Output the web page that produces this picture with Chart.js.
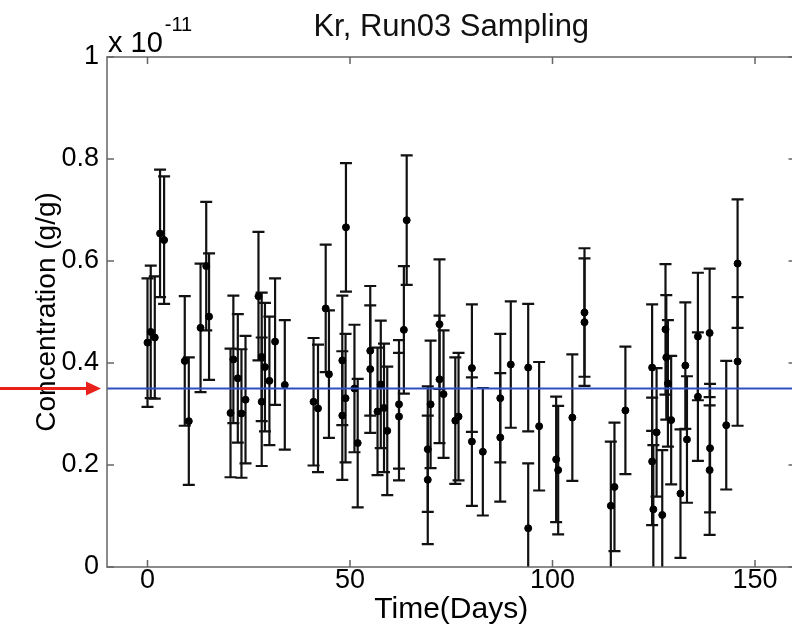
<!DOCTYPE html>
<html>
<head>
<meta charset="utf-8">
<script src="https://cdn.jsdelivr.net/npm/chart.js@4.4.1/dist/chart.umd.min.js"></script>
<style>
html,body{margin:0;padding:0;background:#fff;overflow:hidden;width:792px;height:630px;}
#wrap{position:absolute;left:0;top:0;width:800px;height:630px;}
</style>
</head>
<body>
<div id="wrap"><canvas id="c" width="800" height="630"></canvas></div>
<script>
// Time in days
const days = [0,0.8,1.8,3.1,4.1,9.2,10.2,13.1,14.5,15.2,
  20.5,21.2,22.3,23.2,24.2,
  27.4,28.2,28.2,29.0,30.1,31.5,33.9,
  41.0,42.1,44.0,44.8,
  48.1,48.1,49.0,48.9,
  51.1,51.9,
  55.0,55.0,56.8,57.6,58.4,59.2,
  62.1,62.1,64.0,63.3,
  69.2,69.2,69.9,
  72.1,72.1,73.1,
  76.0,76.8,
  80.1,80.1,82.8,
  87.1,87.1,89.7,
  94.0,94.0,96.7,
  100.9,101.4,104.9,
  107.9,107.9,
  114.4,115.3,118.0,
  124.6,124.6,124.9,125.7,
  127.1,127.9,128.1,128.5,129.3,
  131.6,132.8,133.2,
  135.9,135.9,
  138.8,138.9,138.8,
  142.9,145.7,145.7];
// Concentration (x 1e-11 g/g)
const conc = [0.440,0.461,0.450,0.654,0.641,0.404,0.286,0.469,0.590,0.491,
  0.302,0.407,0.370,0.301,0.328,
  0.531,0.412,0.324,0.392,0.365,0.442,0.357,
  0.324,0.311,0.507,0.378,
  0.405,0.297,0.666,0.331,
  0.350,0.243,
  0.424,0.388,0.305,0.358,0.312,0.267,
  0.319,0.295,0.680,0.465,
  0.231,0.171,0.319,
  0.476,0.368,0.339,
  0.287,0.295,
  0.390,0.246,0.226,
  0.331,0.254,0.397,
  0.391,0.076,0.276,
  0.211,0.190,0.293,
  0.499,0.480,
  0.120,0.157,0.307,
  0.391,0.207,0.113,0.264,
  0.102,0.466,0.411,0.360,0.288,
  0.144,0.395,0.250,
  0.452,0.334,
  0.459,0.233,0.190,
  0.278,0.595,0.403];
// Symmetric error (x 1e-11 g/g)
const errs = [0.126,0.13,0.12,0.125,0.125,0.127,0.125,0.126,0.126,0.124,
  0.126,0.125,0.126,0.126,0.125,
  0.126,0.126,0.126,0.126,0.126,0.124,0.127,
  0.125,0.125,0.125,0.125,
  0.127,0.126,0.126,0.126,
  0.125,0.126,
  0.127,0.125,0.125,0.125,0.126,0.126,
  0.126,0.125,0.127,0.125,
  0.123,0.126,0.125,
  0.127,0.125,0.125,
  0.124,0.125,
  0.125,0.126,0.125,
  0.126,0.126,0.124,
  0.125,0.127,0.126,
  0.123,0.126,0.124,
  0.126,0.125,
  0.126,0.126,0.125,
  0.124,0.125,0.126,0.126,
  0.127,0.128,0.122,0.124,0.126,
  0.126,0.124,0.124,
  0.125,0.126,
  0.126,0.126,0.127,
  0.126,0.126,0.126];
const referenceLevel = [0.35];
const xTicks = [0,50,100,150];
const yTicks = [0,0.2,0.4,0.6,0.8,1];
const xRange = [-10,160];
const yRange = [0,1];

const FONT = "'Liberation Sans', Arial, Helvetica, sans-serif";
const points = days.map((d,i)=>({x:d,y:conc[i]}));
const refLine = [{x:xRange[0],y:referenceLevel[0]},{x:xRange[1],y:referenceLevel[0]}];

const errorBarPlugin = {
  id:'errbars',
  beforeDatasetsDraw(chart){
    const {ctx, chartArea:a, scales:{x,y}} = chart;
    ctx.save();
    ctx.beginPath(); ctx.rect(a.left,a.top,a.right-a.left,a.bottom-a.top); ctx.clip();
    ctx.strokeStyle='#111'; ctx.lineWidth=2.2;
    const cap=6;
    days.forEach((d,i)=>{
      const px=x.getPixelForValue(d);
      const pt=y.getPixelForValue(conc[i]+errs[i]);
      const pb=y.getPixelForValue(conc[i]-errs[i]);
      ctx.beginPath();
      ctx.moveTo(px,pt); ctx.lineTo(px,pb);
      ctx.moveTo(px-cap,pt); ctx.lineTo(px+cap,pt);
      ctx.moveTo(px-cap,pb); ctx.lineTo(px+cap,pb);
      ctx.stroke();
    });
    ctx.restore();
  }
};

const frameQuirks = {
  id:'frame',
  afterDraw(chart){
    const {ctx, chartArea:a, scales:{x,y}} = chart;
    ctx.save();
    ctx.strokeStyle='#666'; ctx.lineWidth=1.5;
    ctx.strokeRect(a.left,a.top,a.right-a.left,a.bottom-a.top);
    const tl=7;
    ctx.beginPath();
    xTicks.forEach(v=>{const p=x.getPixelForValue(v);
      ctx.moveTo(p,a.bottom); ctx.lineTo(p,a.bottom-tl);
      ctx.moveTo(p,a.top); ctx.lineTo(p,a.top+tl);});
    yTicks.forEach(v=>{const p=y.getPixelForValue(v);
      ctx.moveTo(a.left,p); ctx.lineTo(a.left+tl,p);
      ctx.moveTo(a.right,p); ctx.lineTo(a.right-tl,p);});
    ctx.stroke();
    // exponent label
    ctx.fillStyle='#000';
    ctx.textBaseline='alphabetic';
    ctx.font='29px '+FONT;
    ctx.fillText('x 10', a.left+1, a.top-5);
    const w=ctx.measureText('x 10').width;
    ctx.font='20px '+FONT;
    ctx.fillText('-11', a.left+1+w+2, a.top-26);
    // red arrow pointing to the reference level
    const ry=y.getPixelForValue(referenceLevel[0]);
    ctx.strokeStyle='#e8211b'; ctx.fillStyle='#e8211b'; ctx.lineWidth=3;
    ctx.beginPath(); ctx.moveTo(0,ry); ctx.lineTo(88,ry); ctx.stroke();
    ctx.beginPath(); ctx.moveTo(101,ry); ctx.lineTo(86,ry-7); ctx.lineTo(86,ry+7); ctx.closePath(); ctx.fill();
    ctx.restore();
  }
};

new Chart(document.getElementById('c'),{
  type:'scatter',
  data:{datasets:[
    {type:'line',data:refLine,borderColor:'#2f4fc0',borderWidth:2,pointRadius:0,fill:false,tension:0},
    {data:points,backgroundColor:'#000',borderColor:'#000',pointRadius:3.5,pointHoverRadius:3.5,showLine:false}
  ]},
  options:{
    responsive:false,animation:false,devicePixelRatio:1,
    layout:{padding:{left:0,right:1,top:0,bottom:0}},
    plugins:{
      legend:{display:false},tooltip:{enabled:false},
      title:{display:true,text:'Kr, Run03 Sampling',fullSize:false,color:'#111',
        font:{family:FONT,size:31,weight:'normal',lineHeight:1.2},padding:{top:9,bottom:10.8}}
    },
    scales:{
      x:{type:'linear',min:xRange[0],max:xRange[1],
        grid:{display:false,drawTicks:false},border:{display:false},
        afterBuildTicks(s){s.ticks=xTicks.map(v=>({value:v}));},
        afterFit(s){s.height=63;},
        ticks:{color:'#000',padding:0,font:{family:FONT,size:27,lineHeight:1},maxRotation:0,autoSkip:false,
          callback:v=>String(v)},
        title:{display:true,text:'Time(Days)',color:'#000',font:{family:FONT,size:30,lineHeight:1.2},padding:{top:0,bottom:2}}
      },
      y:{type:'linear',min:yRange[0],max:yRange[1],
        grid:{display:false,drawTicks:false},border:{display:false},
        afterBuildTicks(s){s.ticks=yTicks.map(v=>({value:v}));},
        afterFit(s){s.width=107;},
        ticks:{color:'#000',padding:8,font:{family:FONT,size:27,lineHeight:1},autoSkip:false,
          callback:v=>String(+(+v).toFixed(1))},
        title:{display:true,text:'Concentration (g/g)',color:'#000',font:{family:FONT,size:28,lineHeight:1.2},padding:{top:30,bottom:0}}
      }
    }
  },
  plugins:[errorBarPlugin,frameQuirks]
});
</script>
</body>
</html>
